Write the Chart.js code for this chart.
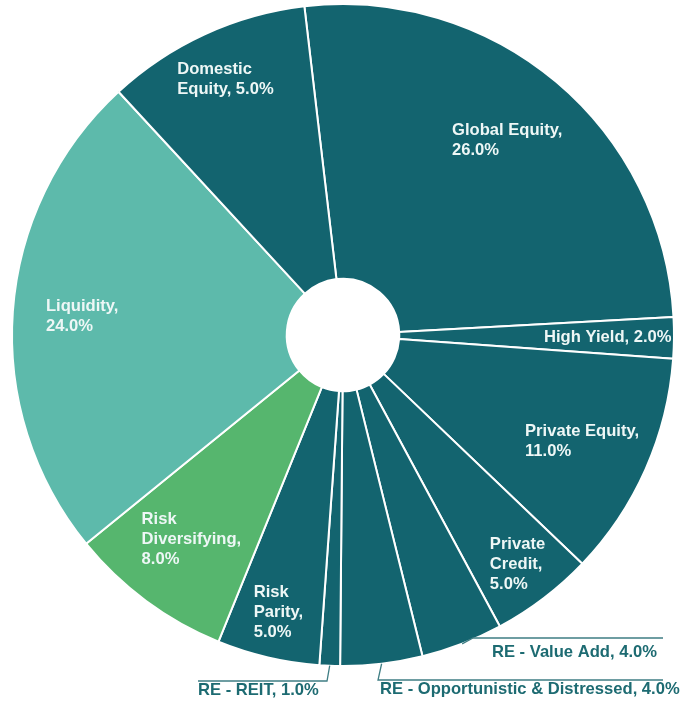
<!DOCTYPE html>
<html><head><meta charset="utf-8">
<script src="https://cdn.jsdelivr.net/npm/chart.js@4/dist/chart.umd.min.js"></script>
<style>html,body{margin:0;padding:0;background:#fff;}#wrap{width:694px;height:706px;}</style>
</head><body><div id="wrap"><canvas id="c" width="694" height="706"></canvas></div>
<script>
// ---- data ----
const categories = ["Global Equity","High Yield","Private Equity","Private Credit","RE - Value Add",
  "RE - Opportunistic & Distressed","RE - REIT","Risk Parity","Risk Diversifying","Liquidity","Domestic Equity"];
// values printed in the labels
const printedShares = [26.0, 2.0, 11.0, 5.0, 4.0, 4.0, 1.0, 5.0, 8.0, 24.0, 5.0];
// angular share of each slice as drawn in the picture (Domestic Equity slice spans ~10% of the circle)
const sliceShares = [26, 2, 11, 5, 4, 4, 1, 5, 8, 24, 10];

// ---- styles / layout (kept apart from data) ----
const DARK = '#13646f', LIQ = '#5dbaab', GREEN = '#56b66e';
const sliceColors = [DARK, DARK, DARK, DARK, DARK, DARK, DARK, DARK, GREEN, LIQ, DARK];
// inside labels: radial fraction and wrap width; outside labels: leader geometry relative to centre
const labelLayout = [
  {r:0.77, w:125}, {r:0.80, w:200}, {r:0.79, w:130}, {r:0.87, w:64},
  {outside:true, elbow:[130,303], end:[320,303], text:[314,317.5], align:'right'},
  {outside:true, elbow:[35,345], end:[320,345], text:[37,354], align:'left'},
  {outside:true, elbow:[-16,346], end:[-145,346], text:[-145,355], align:'left'},
  {r:0.86, w:64}, {r:0.77, w:120}, {r:0.79, w:95}, {r:0.85, w:105}
];
const FONT = 'bold 16.6px "Liberation Sans", Arial, sans-serif';

function wrap(ctx, text, maxW){
  const words = text.split(' ');
  const lines = []; let cur = '';
  words.forEach(wd=>{
    const t = cur ? cur + ' ' + wd : wd;
    if (cur && ctx.measureText(t).width > maxW){ lines.push(cur); cur = wd; }
    else cur = t;
  });
  if (cur) lines.push(cur);
  return lines;
}

const labelPlugin = {
  id:'sliceLabels',
  afterDatasetsDraw(chart){
    const ctx = chart.ctx;
    const meta = chart.getDatasetMeta(0);
    ctx.save();
    ctx.font = FONT;
    ctx.textBaseline = 'middle';
    meta.data.forEach((arc,i)=>{
      const p = arc.getProps(['x','y','startAngle','endAngle','outerRadius'], true);
      const mid = (p.startAngle + p.endAngle)/2;
      const text = categories[i] + ', ' + printedShares[i].toFixed(1) + '%';
      const lay = labelLayout[i];
      if (lay.outside){
        const ex = p.x + Math.cos(mid)*p.outerRadius, ey = p.y + Math.sin(mid)*p.outerRadius;
        ctx.strokeStyle = '#3f7e84'; ctx.lineWidth = 1.3;
        ctx.beginPath();
        ctx.moveTo(ex, ey);
        ctx.lineTo(p.x + lay.elbow[0], p.y + lay.elbow[1]);
        ctx.lineTo(p.x + lay.end[0], p.y + lay.end[1]);
        ctx.stroke();
        ctx.fillStyle = '#1d6b72';
        ctx.textAlign = lay.align;
        ctx.fillText(text, p.x + lay.text[0], p.y + lay.text[1]);
      } else {
        const r = p.outerRadius * lay.r;
        const cx = p.x + Math.cos(mid)*r, cy = p.y + Math.sin(mid)*r;
        const lines = wrap(ctx, text, lay.w);
        const bw = Math.max(...lines.map(l=>ctx.measureText(l).width));
        const lh = 20;
        const top = cy - lh*(lines.length-1)/2;
        ctx.fillStyle = '#eef7f6';
        ctx.textAlign = 'left';
        lines.forEach((l,k)=>ctx.fillText(l, cx - bw/2, top + k*lh));
      }
    });
    ctx.restore();
  }
};

new Chart(document.getElementById('c'), {
  type:'doughnut',
  data:{ labels:categories, datasets:[{ data:sliceShares, backgroundColor:sliceColors,
    borderColor:'#ffffff', borderWidth:2, hoverOffset:0 }]},
  options:{
    responsive:false, animation:false, events:[],
    rotation:-6.7, cutout:'17%',
    layout:{ padding:{ left:11, right:19, top:3, bottom:39 } },
    plugins:{ legend:{display:false}, tooltip:{enabled:false} }
  },
  plugins:[labelPlugin]
});
</script>
</body></html>
